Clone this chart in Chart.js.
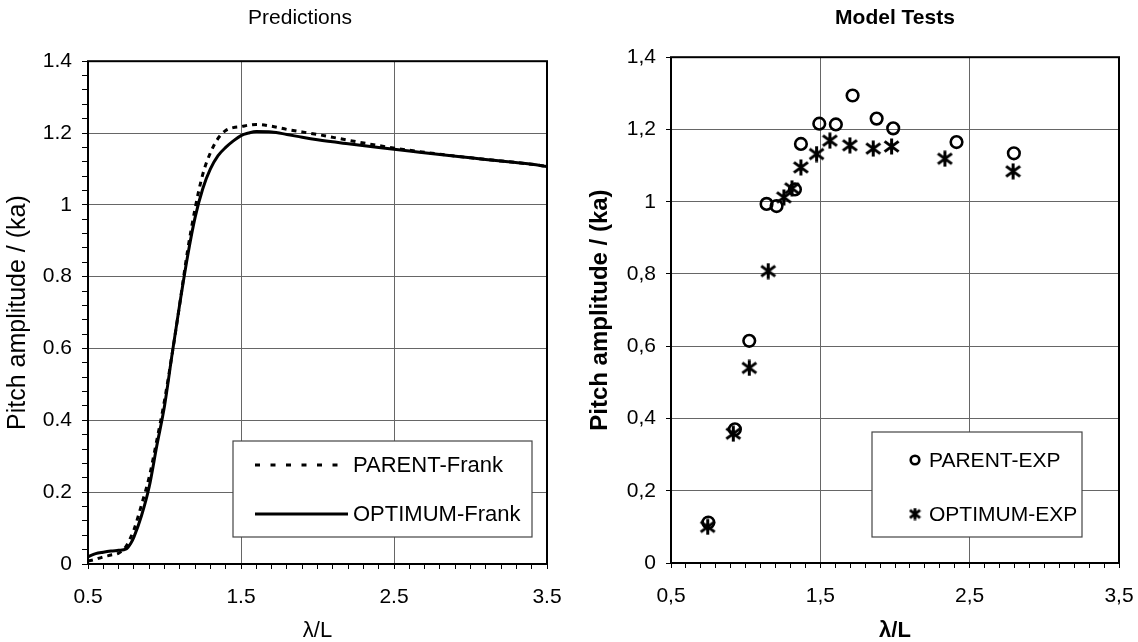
<!DOCTYPE html>
<html><head><meta charset="utf-8">
<script src="https://cdn.jsdelivr.net/npm/chart.js@4/dist/chart.umd.min.js"></script>
<style>
html,body{margin:0;padding:0;background:#fff;overflow:hidden;width:1138px;height:642px;position:relative;}
#c1{position:absolute;left:0;top:0;}
#c2{position:absolute;left:585px;top:0;}
</style></head><body>
<canvas id="c1" width="600" height="642"></canvas>
<canvas id="c2" width="602" height="642"></canvas>
<script>
// ---- data ----
const lambdaPred = [0.5,0.55,0.6,0.65,0.7,0.75,0.78,0.8,0.85,0.9,0.95,1.0,1.05,1.1,1.15,1.2,1.25,1.3,1.35,1.4,1.45,1.5,1.55,1.6,1.7,1.8,1.9,2.0,2.2,2.4,2.6,2.8,3.0,3.2,3.4,3.5];
const parentFrank = [0.008,0.013,0.02,0.025,0.03,0.05,0.075,0.095,0.165,0.242,0.345,0.455,0.585,0.725,0.87,0.99,1.085,1.145,1.185,1.207,1.215,1.218,1.222,1.224,1.219,1.21,1.203,1.196,1.18,1.165,1.152,1.141,1.131,1.122,1.113,1.107];
const optimumFrank = [0.02,0.029,0.033,0.036,0.038,0.042,0.058,0.075,0.135,0.215,0.33,0.44,0.585,0.725,0.855,0.965,1.045,1.1,1.137,1.16,1.178,1.193,1.2,1.204,1.203,1.196,1.188,1.181,1.17,1.16,1.15,1.14,1.131,1.122,1.113,1.107];

const parentExpX = [0.75,0.928,1.024,1.14,1.207,1.33,1.37,1.493,1.604,1.716,1.877,1.988,2.412,2.796];
const parentExpY = [0.112,0.370,0.615,0.994,0.988,1.034,1.160,1.216,1.214,1.294,1.230,1.203,1.165,1.134];
const optimumExpX = [0.746,0.917,1.024,1.151,1.256,1.31,1.37,1.475,1.564,1.698,1.854,1.977,2.334,2.791];
const optimumExpY = [0.100,0.358,0.540,0.808,1.012,1.037,1.095,1.132,1.169,1.156,1.147,1.153,1.119,1.084];

const xTickValues = [0.5,1.5,2.5,3.5];
const xTickLabelsLeft = ['0.5','1.5','2.5','3.5'];
const xTickLabelsRight = ['0,5','1,5','2,5','3,5'];
const yTickValues = [0,0.2,0.4,0.6,0.8,1,1.2,1.4];
const yTickLabelsLeft = ['0','0.2','0.4','0.6','0.8','1','1.2','1.4'];
const yTickLabelsRight = ['0','0,2','0,4','0,6','0,8','1','1,2','1,4'];

// ---- helpers ----
const FONT = "'Liberation Sans', Arial, sans-serif";
Chart.defaults.font.family = FONT;
Chart.defaults.color = '#000';
const GRID = '#666666';
const near = (vals, v) => vals.findIndex(t => Math.abs(t - v) < 1e-6);
const pair = (xs, ys) => xs.map((x, i) => ({x, y: ys[i]}));

function makeStar(size, lw) {
  const c = document.createElement('canvas');
  c.width = c.height = size;
  const g = c.getContext('2d');
  g.strokeStyle = '#000'; g.lineWidth = lw;
  const m = size / 2, p = lw / 2;
  g.beginPath();
  g.moveTo(m, 0.5); g.lineTo(m, size - 0.5);
  g.moveTo(p, size * 0.2); g.lineTo(size - p, size * 0.8);
  g.moveTo(p, size * 0.8); g.lineTo(size - p, size * 0.2);
  g.stroke();
  return c;
}
const starBig = makeStar(17, 3);
const starSmall = makeStar(13, 2.8);

const framePlugin = {
  id: 'frameLegend',
  afterDatasetsDraw(chart, args, o) {
    const {ctx, chartArea: a} = chart;
    ctx.save();
    ctx.strokeStyle = '#000'; ctx.lineWidth = 2;
    ctx.strokeRect(a.left, a.top, a.right - a.left, a.bottom - a.top);
    if (o && o.rows) {
      const x0 = a.left + o.left, x1 = a.right - o.right;
      const y1 = a.bottom - o.bottom, y0 = y1 - o.height;
      ctx.fillStyle = '#fff';
      ctx.fillRect(x0, y0, x1 - x0, y1 - y0);
      ctx.strokeStyle = '#444'; ctx.lineWidth = 1.2;
      ctx.strokeRect(x0, y0, x1 - x0, y1 - y0);
      chart.data.datasets.forEach((ds, i) => {
        const y = y0 + o.rows[i];
        ctx.strokeStyle = '#000';
        if (o.kind === 'line') {
          ctx.lineWidth = 3;
          ctx.setLineDash(ds.borderDash && ds.borderDash.length ? [5, 10.5] : []);
          ctx.beginPath();
          ctx.moveTo(x0 + o.sampleX0, y); ctx.lineTo(x0 + o.sampleX1, y);
          ctx.stroke();
          ctx.setLineDash([]);
        } else {
          const mx = x0 + o.markerX;
          if (ds.pointStyle === 'circle') {
            ctx.lineWidth = 2.6;
            ctx.beginPath(); ctx.arc(mx, y, 4.3, 0, Math.PI * 2); ctx.stroke();
          } else {
            ctx.drawImage(starSmall, mx - starSmall.width / 2, y - starSmall.height / 2);
          }
        }
        ctx.fillStyle = '#000';
        ctx.font = o.fontSize + 'px ' + FONT;
        ctx.textBaseline = 'middle';
        ctx.textAlign = 'left';
        ctx.fillText(ds.label, x0 + o.textX, y + 1);
      });
    }
    ctx.restore();
  }
};

function xScale(labels, bold, axisHeight) {
  return {
    type: 'linear', min: 0.5, max: 3.5,
    border: {display: false},
    grid: {
      color: c => { const i = near(xTickValues, c.tick.value); return (i > 0 && i < xTickValues.length - 1) ? GRID : 'rgba(0,0,0,0)'; },
      tickColor: '#000', tickLength: 5, lineWidth: 1, tickWidth: 1
    },
    ticks: {
      stepSize: 0.1, autoSkip: false, maxRotation: 0, minRotation: 0, padding: 16,
      font: {size: 21},
      callback: v => { const i = near(xTickValues, v); return i >= 0 ? labels[i] : ''; }
    },
    title: {display: true, text: 'λ/L', font: {size: 22, weight: bold ? 'bold' : 'normal', lineHeight: 1}, padding: {top: 0, bottom: 0}},
    afterFit: s => { s.height = axisHeight; }
  };
}
function yScale(labels, bold, step, tickLen, axisWidth, titleSize, titlePad) {
  return {
    type: 'linear', min: 0, max: 1.4,
    border: {display: false},
    grid: {
      color: c => { const i = near(yTickValues, c.tick.value); return (i > 0 && i < yTickValues.length - 1) ? GRID : 'rgba(0,0,0,0)'; },
      tickColor: '#000', tickLength: tickLen, lineWidth: 1
    },
    ticks: {
      stepSize: step, autoSkip: false, padding: 10,
      font: {size: 21},
      callback: v => { const i = near(yTickValues, v); return i >= 0 ? labels[i] : ''; }
    },
    title: {display: true, text: 'Pitch amplitude / (ka)', font: {size: titleSize, weight: bold ? 'bold' : 'normal', lineHeight: 1}, padding: {top: titlePad, bottom: 0}},
    afterFit: s => { s.width = axisWidth; }
  };
}

// ---- left chart: Predictions ----
new Chart(document.getElementById('c1'), {
  type: 'scatter',
  data: {
    datasets: [
      {label: 'PARENT-Frank', data: pair(lambdaPred, parentFrank), showLine: true, borderColor: '#000', borderWidth: 3, borderDash: [5, 5], pointRadius: 0, cubicInterpolationMode: 'monotone', fill: false},
      {label: 'OPTIMUM-Frank', data: pair(lambdaPred, optimumFrank), showLine: true, borderColor: '#000', borderWidth: 3, pointRadius: 0, cubicInterpolationMode: 'monotone', fill: false}
    ]
  },
  options: {
    responsive: false, animation: false, events: [],
    layout: {padding: {left: 0, right: 0, top: 0, bottom: 0}},
    plugins: {
      legend: {display: false}, tooltip: {enabled: false},
      title: {display: true, text: 'Predictions', font: {size: 21, weight: 'normal', lineHeight: 1.2}, color: '#000', padding: {top: 6, bottom: 30}},
      frameLegend: {kind: 'line', left: 145, right: 15, bottom: 27, height: 96, rows: [24, 73], sampleX0: 22, sampleX1: 115, textX: 120, fontSize: 22}
    },
    scales: {
      x: xScale(xTickLabelsLeft, false, 78),
      y: yScale(yTickLabelsLeft, false, 0.04, 6, 88, 25, 5.5),
      yPad: {type: 'linear', position: 'right', display: true, min: 0, max: 1,
        grid: {display: false, drawTicks: false}, ticks: {display: false}, border: {display: false},
        afterFit: s => { s.width = 53; }}
    }
  },
  plugins: [framePlugin]
});

// ---- right chart: Model Tests ----
new Chart(document.getElementById('c2'), {
  type: 'scatter',
  data: {
    datasets: [
      {label: 'PARENT-EXP', data: pair(parentExpX, parentExpY), pointStyle: 'circle', pointRadius: 5.8, borderWidth: 2.6, borderColor: '#000', backgroundColor: 'rgba(0,0,0,0)', showLine: false},
      {label: 'OPTIMUM-EXP', data: pair(optimumExpX, optimumExpY), pointStyle: starBig, pointRadius: 8, borderColor: '#000', showLine: false}
    ]
  },
  options: {
    responsive: false, animation: false, events: [],
    layout: {padding: {left: 0, right: 68, top: 0, bottom: 0}},
    plugins: {
      legend: {display: false}, tooltip: {enabled: false},
      title: {display: true, fullSize: false, text: 'Model Tests', font: {size: 21, weight: 'bold', lineHeight: 1.2}, color: '#000', padding: {top: 6, bottom: 26}},
      frameLegend: {kind: 'marker', left: 201, right: 37, bottom: 26, height: 105, rows: [28, 82], markerX: 43, textX: 57, fontSize: 21}
    },
    scales: {
      x: xScale(xTickLabelsRight, true, 79),
      y: yScale(yTickLabelsRight, true, 0.2, 5, 86, 24, 3)
    }
  },
  plugins: [framePlugin]
});
</script>
</body></html>
